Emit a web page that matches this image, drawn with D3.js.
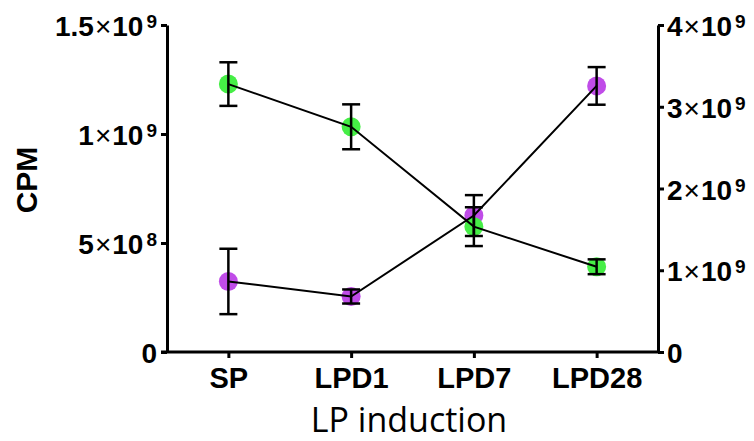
<!DOCTYPE html>
<html>
<head>
<meta charset="utf-8">
<script src="https://cdn.jsdelivr.net/npm/d3@7"></script>
<style>
  body { margin: 0; background: #fff; }
  svg { display: block; }
</style>
</head>
<body>
<div id="chart"></div>
<script>
// data
var categories = [ 'SP', 'LPD1', 'LPD7', 'LPD28' ];

// green series, left axis
var greenMean = [ 1.229e9, 1.033e9, 0.575e9, 0.391e9 ];
var greenErr  = [ 0.100e9, 0.103e9, 0.089e9, 0.034e9 ];

// purple series, right axis
var purpleMean = [ 0.863e9, 0.679e9, 1.669e9, 3.255e9 ];
var purpleErr  = [ 0.400e9, 0.086e9, 0.250e9, 0.230e9 ];

// tick values and labels [ mantissa, exponent ]
var leftTicks  = [ 0, 5e8, 1e9, 1.5e9 ];
var leftLabels = [ [ '0', '' ], [ '5', '8' ], [ '1', '9' ], [ '1.5', '9' ] ];
var rightTicks  = [ 0, 1e9, 2e9, 3e9, 4e9 ];
var rightLabels = [ [ '0', '' ], [ '1', '9' ], [ '2', '9' ], [ '3', '9' ], [ '4', '9' ] ];

var W = 754, H = 441;
var box = { left: 167, right: 658, top: 25, bottom: 352 };
var font = 'Liberation Sans, Arial, sans-serif';

var svg = d3.select( '#chart' ).append( 'svg' )
            .attr( 'width', W )
            .attr( 'height', H );

var x = d3.scalePoint()
          .domain( categories )
          .range( [ box.left, box.right ] )
          .padding( 0.5 );

var yLeft = d3.scaleLinear()
              .domain( [ 0, 1.5e9 ] )
              .range( [ box.bottom, box.top ] );

var yRight = d3.scaleLinear()
               .domain( [ 0, 4e9 ] )
               .range( [ box.bottom, box.top ] );

// write "a×10^b" into a text node
function sciLabel( text, label ) {
    text.text( null );
    text.append( 'tspan' ).attr( 'font-weight', 'bold' ).text( label[ 0 ] );
    if( label[ 1 ] === '' ) return;
    text.append( 'tspan' ).attr( 'font-weight', 'normal' ).attr( 'dx', 1 ).text( '\u00d7' );
    text.append( 'tspan' ).attr( 'font-weight', 'bold' ).attr( 'dx', 1 ).text( '10' );
    text.append( 'tspan' ).attr( 'font-weight', 'bold' )
        .attr( 'font-size', 19 ).attr( 'dy', -8 ).attr( 'dx', 3 )
        .text( label[ 1 ] );
}

function styleAxis( g ) {
    g.select( '.domain' ).attr( 'stroke', '#000' ).attr( 'stroke-width', 3 );
    g.selectAll( '.tick line' ).attr( 'stroke', '#000' ).attr( 'stroke-width', 3 );
}

// left axis
var gLeft = svg.append( 'g' )
               .attr( 'transform', 'translate(' + box.left + ',0)' )
               .call( d3.axisLeft( yLeft ).tickValues( leftTicks ).tickSize( 6 ).tickSizeOuter( 0 ) );
styleAxis( gLeft );
gLeft.selectAll( '.tick text' )
     .attr( 'font-family', font )
     .attr( 'font-size', 28 )
     .attr( 'fill', '#000' )
     .attr( 'x', -10 )
     .attr( 'dy', '0.38em' )
     .each( function( d, i ) { sciLabel( d3.select( this ), leftLabels[ i ] ); } );

// right axis
var gRight = svg.append( 'g' )
                .attr( 'transform', 'translate(' + box.right + ',0)' )
                .call( d3.axisRight( yRight ).tickValues( rightTicks ).tickSize( 6 ).tickSizeOuter( 0 ) );
styleAxis( gRight );
gRight.selectAll( '.tick text' )
      .attr( 'font-family', font )
      .attr( 'font-size', 28 )
      .attr( 'fill', '#000' )
      .attr( 'x', 9 )
      .attr( 'dy', '0.38em' )
      .each( function( d, i ) { sciLabel( d3.select( this ), rightLabels[ i ] ); } );

// bottom axis
var gBottom = svg.append( 'g' )
                 .attr( 'transform', 'translate(0,' + box.bottom + ')' )
                 .call( d3.axisBottom( x ).tickSize( 6 ).tickSizeOuter( 0 ) );
styleAxis( gBottom );
gBottom.select( '.domain' ).attr( 'd', 'M' + ( box.left - 6 ) + ',0H' + box.right );
gBottom.selectAll( '.tick text' )
       .attr( 'font-family', font )
       .attr( 'font-size', 29 )
       .attr( 'font-weight', 'bold' )
       .attr( 'fill', '#000' )
       .attr( 'y', 36 )
       .attr( 'dy', 0 );

// axis titles
svg.append( 'text' )
   .attr( 'transform', 'translate(37,180) rotate(-90)' )
   .attr( 'text-anchor', 'middle' )
   .attr( 'font-family', font )
   .attr( 'font-size', 30 )
   .attr( 'font-weight', 'bold' )
   .text( 'CPM' );

svg.append( 'text' )
   .attr( 'x', 409 )
   .attr( 'y', 432 )
   .attr( 'text-anchor', 'middle' )
   .attr( 'font-family', 'Open Sans, sans-serif' )
   .attr( 'font-size', 34 )
   .text( 'LP induction' );

// series
var series = [
    { mean: purpleMean, err: purpleErr, scale: yRight, color: '#c04ce8' },
    { mean: greenMean,  err: greenErr,  scale: yLeft,  color: '#46ee46' }
];

series.forEach( function( s ) {
    svg.append( 'g' ).selectAll( 'circle' )
       .data( categories )
       .enter()
       .append( 'circle' )
       .attr( 'cx', function( d ) { return x( d ); } )
       .attr( 'cy', function( d, i ) { return s.scale( s.mean[ i ] ); } )
       .attr( 'r', 9.5 )
       .attr( 'fill', s.color );
});

series.forEach( function( s ) {
    var line = d3.line()
                 .x( function( d ) { return x( d ); } )
                 .y( function( d, i ) { return s.scale( s.mean[ i ] ); } );
    svg.append( 'path' )
       .datum( categories )
       .attr( 'd', line )
       .attr( 'fill', 'none' )
       .attr( 'stroke', '#000' )
       .attr( 'stroke-width', 2 );
});

series.forEach( function( s ) {
    var g = svg.append( 'g' ).attr( 'stroke', '#000' ).attr( 'stroke-width', 2.5 );
    categories.forEach( function( c, i ) {
        var cx = x( c );
        var hi = s.scale( s.mean[ i ] + s.err[ i ] );
        var lo = s.scale( s.mean[ i ] - s.err[ i ] );
        g.append( 'line' ).attr( 'x1', cx ).attr( 'x2', cx ).attr( 'y1', hi ).attr( 'y2', lo );
        g.append( 'line' ).attr( 'x1', cx - 9 ).attr( 'x2', cx + 9 ).attr( 'y1', hi ).attr( 'y2', hi );
        g.append( 'line' ).attr( 'x1', cx - 9 ).attr( 'x2', cx + 9 ).attr( 'y1', lo ).attr( 'y2', lo );
    });
});
</script>
</body>
</html>
